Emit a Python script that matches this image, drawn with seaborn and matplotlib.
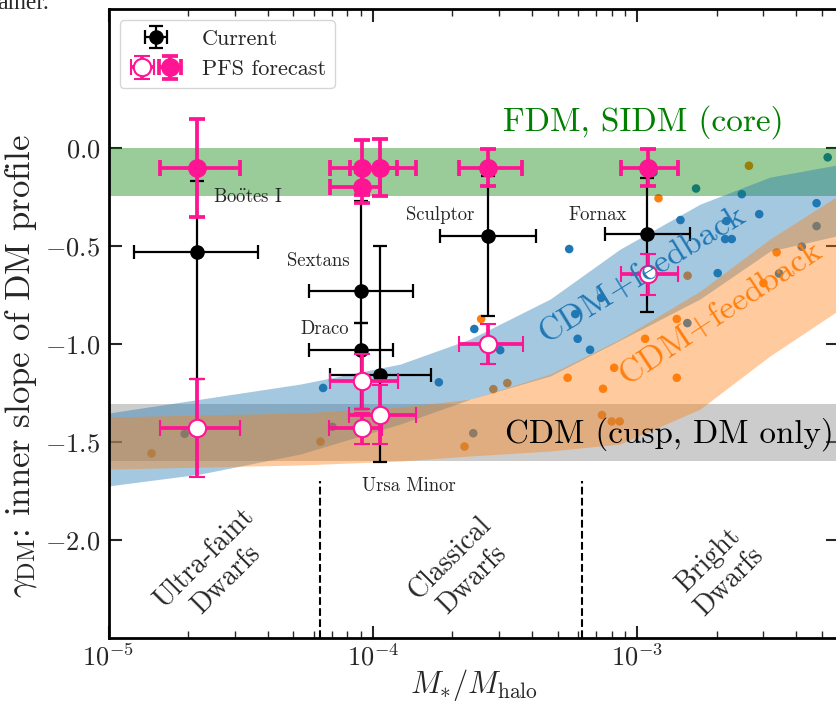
import numpy as np
import pandas as pd
import matplotlib
matplotlib.use("Agg")
import matplotlib.pyplot as plt
import seaborn as sns
from matplotlib.legend_handler import HandlerTuple
from matplotlib.ticker import LogLocator, NullFormatter, FixedLocator, FixedFormatter

# ---------------- data ----------------
galaxy_names = [r"Bo$\ddot{\rm o}$tes I", "Sextans", "Draco", "Ursa Minor", "Sculptor", "Fornax"]
label_x = [3.37e-5, 6.22e-5, 6.6e-5, 1.37e-4, 1.8e-4, 7.06e-4]
label_y = [-0.25, -0.577, -0.923, -1.724, -0.342, -0.342]

# current measurements (black)
cur_x = [2.17e-5, 9.05e-5, 9.05e-5, 1.067e-4, 2.73e-4, 1.094e-3]
cur_x_lo = [1.245e-5, 5.75e-5, 5.75e-5, 6.9e-5, 1.8e-4, 7.53e-4]
cur_x_hi = [3.69e-5, 1.42e-4, 1.19e-4, 1.66e-4, 4.15e-4, 1.59e-3]
cur_y = [-0.53, -0.73, -1.03, -1.16, -0.447, -0.439]
cur_y_lo = [-1.18, -0.89, -1.33, -1.60, -0.857, -0.835]
cur_y_hi = [-0.17, -0.27, -0.89, -0.50, -0.141, -0.153]

# PFS forecast, core scenario (filled)
core_x = [2.17e-5, 9.1e-5, 9.1e-5, 1.067e-4, 2.73e-4, 1.104e-3]
core_x_lo = [1.563e-5, 6.9e-5, 6.87e-5, 8.17e-5, 2.11e-4, 8.67e-4]
core_x_hi = [3.155e-5, 1.23e-4, 1.067e-4, 1.455e-4, 3.66e-4, 1.432e-3]
core_y = [-0.10, -0.10, -0.20, -0.10, -0.10, -0.10]
core_yerr = [0.25, 0.14, 0.08, 0.145, 0.095, 0.095]

# PFS forecast, cusp scenario (open)
cusp_x = [2.17e-5, 9.1e-5, 9.1e-5, 1.067e-4, 2.73e-4, 1.104e-3]
cusp_x_lo = [1.563e-5, 6.86e-5, 6.81e-5, 8.10e-5, 2.11e-4, 8.67e-4]
cusp_x_hi = [3.155e-5, 1.245e-4, 1.084e-4, 1.459e-4, 3.70e-4, 1.432e-3]
cusp_y = [-1.43, -1.19, -1.43, -1.36, -1.00, -0.643]
cusp_yerr = [0.25, 0.14, 0.08, 0.15, 0.10, 0.105]

# simulated galaxies
blue_x = [5.26e-3, 1.153e-3, 1.671e-3, 2.489e-3, 4.775e-3, 2.897e-3, 1.459e-3, 2.178e-3,
          4.775e-3, 2.153e-3, 2.280e-3, 5.534e-4, 4.198e-3, 3.443e-3, 2.018e-3, 7.31e-4,
          5.834e-4, 1.549e-3, 2.421e-4, 5.957e-4, 3.034e-4, 6.637e-4, 6.486e-5, 1.778e-4,
          2.399e-4, 1.941e-5, 7.031e-5]
blue_y = [-0.047, -0.124, -0.206, -0.235, -0.281, -0.337, -0.367, -0.372, -0.398, -0.464,
          -0.464, -0.515, -0.503, -0.640, -0.638, -0.764, -0.847, -0.893, -0.923, -0.973,
          -1.031, -1.029, -1.224, -1.195, -1.455, -1.458, -1.422]
orange_x = [2.649e-3, 1.205e-3, 3.373e-3, 1.552e-3, 3.006e-3, 1.413e-3, 2.570e-4, 1.072e-3,
            8.185e-4, 1.413e-3, 5.458e-4, 7.430e-4, 2.858e-4, 3.228e-4, 7.362e-4, 8.017e-4,
            8.590e-4, 2.223e-4, 1.455e-5, 6.339e-5]
orange_y = [-0.090, -0.256, -0.532, -0.651, -0.689, -0.872, -0.872, -0.973, -1.121, -1.172,
            -1.172, -1.228, -1.230, -1.199, -1.362, -1.395, -1.395, -1.523, -1.558, -1.498]

# CDM+feedback bands
band_x = [1.0e-5, 2.23e-5, 5.32e-5, 1.27e-4, 2.34e-4, 4.69e-4, 8.63e-4, 1.73e-3, 3.18e-3, 5.65e-3, 9.86e-3]
blue_hi = [-1.352, -1.281, -1.204, -1.102, -0.974, -0.770, -0.515, -0.286, -0.148, -0.087, -0.071]
blue_lo = [-1.724, -1.663, -1.561, -1.408, -1.281, -1.163, -0.980, -0.770, -0.526, -0.449, -0.403]
orange_hi = [-1.372, -1.362, -1.352, -1.321, -1.281, -1.153, -0.974, -0.730, -0.464, -0.250, -0.184]
orange_lo = [-1.638, -1.628, -1.617, -1.597, -1.571, -1.546, -1.510, -1.332, -1.061, -0.837, -0.770]

core_band = [-0.245, 0.0]
cusp_band = [-1.597, -1.306]

region_bounds = [6.3e-5, 6.2e-4]
region_names = ["Ultra-faint\nDwarfs", "Classical\nDwarfs", "Bright\nDwarfs"]
region_x = [2.54e-5, 2.16e-4, 2.04e-3]
region_y = [-2.148, -2.147, -2.158]

xtick_vals = [1e-5, 1e-4, 1e-3]
xtick_labels = [r"$10^{-5}$", r"$10^{-4}$", r"$10^{-3}$"]
ytick_vals = [-2.0, -1.5, -1.0, -0.5, 0.0]
ytick_labels = [r"$-2.0$", r"$-1.5$", r"$-1.0$", r"$-0.5$", r"$0.0$"]

# ---------------- style ----------------
sns.set_style("ticks")
plt.rcParams.update({
    "font.family": "serif",
    "font.serif": ["cmr10"],
    "mathtext.fontset": "cm",
    "axes.formatter.use_mathtext": True,
    "axes.unicode_minus": False,
})

PINK = "#ff1493"

fig = plt.figure(figsize=(8.36, 7.06), dpi=100)
ax = fig.add_axes([108.5 / 836, 68 / 706, 729 / 836, 629 / 706])
ax.set_xscale("log")

sim_df = pd.DataFrame({
    "x": blue_x + orange_x,
    "y": blue_y + orange_y,
    "model": ["fb1"] * len(blue_x) + ["fb2"] * len(orange_x),
})
sns.scatterplot(data=sim_df, x="x", y="y", hue="model",
                palette={"fb1": "C0", "fb2": "C1"}, s=38, linewidth=0,
                legend=False, zorder=1, ax=ax)

ax.axhspan(core_band[0], core_band[1], color="green", alpha=0.4, lw=0, zorder=2)
ax.axhspan(cusp_band[0], cusp_band[1], color="gray", alpha=0.4, lw=0, zorder=2)
ax.fill_between(band_x, blue_lo, blue_hi, color="C0", alpha=0.4, lw=0, zorder=2)
ax.fill_between(band_x, orange_lo, orange_hi, color="C1", alpha=0.4, lw=0, zorder=2)

ax.vlines(region_bounds, -2.5, -1.7, colors="k", linestyles="--", lw=1.5, zorder=3)


def xerr(x, lo, hi):
    x = np.asarray(x)
    return [x - np.asarray(lo), np.asarray(hi) - x]


cur = ax.errorbar(cur_x, cur_y, xerr=xerr(cur_x, cur_x_lo, cur_x_hi),
                  yerr=[np.asarray(cur_y) - np.asarray(cur_y_lo), np.asarray(cur_y_hi) - np.asarray(cur_y)],
                  fmt="o", color="k", ms=9.5, elinewidth=1.6, capsize=5, capthick=1.6, zorder=4)
core = ax.errorbar(core_x, core_y, xerr=xerr(core_x, core_x_lo, core_x_hi), yerr=core_yerr,
                   fmt="o", color=PINK, ms=12.5, elinewidth=2.7, capsize=6, capthick=2.7, zorder=5)
cusp = ax.errorbar(cusp_x, cusp_y, xerr=xerr(cusp_x, cusp_x_lo, cusp_x_hi), yerr=cusp_yerr,
                   fmt="o", color=PINK, mfc="white", mec=PINK, mew=1.5, ms=12.5,
                   elinewidth=2.7, capsize=6, capthick=2.7, zorder=5)

for name, lx, ly in zip(galaxy_names, label_x, label_y):
    ax.text(lx, ly, name, ha="center", va="center", fontsize=13.5, zorder=6)

ax.text(1.054e-3, 0.135, "FDM, SIDM (core)", color="green", fontsize=24, ha="center", va="center")
ax.text(3.17e-4, -1.46, "CDM (cusp, DM only)", color="k", fontsize=23.8, ha="left", va="center", zorder=6)
ax.text(1.045e-3, -0.648, "CDM+feedback", color="C0", fontsize=24.5, rotation=31.5,
        ha="center", va="center", rotation_mode="anchor", zorder=6)
ax.text(2.08e-3, -0.842, "CDM+feedback", color="C1", fontsize=24.5, rotation=33.5,
        ha="center", va="center", rotation_mode="anchor", zorder=6)

for name, rx, ry in zip(region_names, region_x, region_y):
    ax.text(rx, ry, name, rotation=45, ha="center", va="center", fontsize=20,
            multialignment="center", rotation_mode="anchor")

ax.set_xlim(1e-5, 5.73e-3)
ax.set_ylim(-2.5, 0.71)

ax.xaxis.set_major_locator(FixedLocator(xtick_vals))
ax.xaxis.set_major_formatter(FixedFormatter(xtick_labels))
ax.xaxis.set_minor_locator(LogLocator(base=10, subs=np.arange(2, 10)))
ax.xaxis.set_minor_formatter(NullFormatter())
ax.yaxis.set_major_locator(FixedLocator(ytick_vals))
ax.yaxis.set_major_formatter(FixedFormatter(ytick_labels))

ax.tick_params(which="both", direction="in", top=True, right=True, labelsize=19)
ax.tick_params(which="major", length=9, width=1.5)
ax.tick_params(which="minor", length=5, width=1.0)
ax.tick_params(axis="y", pad=6)
ax.tick_params(axis="x", pad=4)
for sp in ax.spines.values():
    sp.set_linewidth(2)
    sp.set_color("k")

ax.set_xlabel(r"$M_{*}/M_{\rm halo}$", fontsize=22)
ax.set_ylabel(r"$\gamma_{\rm DM}$: inner slope of DM profile", fontsize=25)
ax.yaxis.set_label_coords(-0.096, (638 - 366) / 629)
ax.xaxis.set_label_coords((474 - 108.5) / 729, -(703 - 638) / 629)
ax.xaxis.label.set_va("bottom")

leg = ax.legend([cur, (cusp, core)], ["Current", "PFS forecast"],
                handler_map={tuple: HandlerTuple(ndivide=None, pad=0.0)},
                loc="upper left", fontsize=16, handlelength=2.5, frameon=True,
                fancybox=True, framealpha=0.8, edgecolor="0.8")

fig.text(-0.003, 1 - 9 / 706, "ainer.", fontsize=17, family="Liberation Serif", va="baseline", ha="left")

fig.savefig("out.png", dpi=100)
